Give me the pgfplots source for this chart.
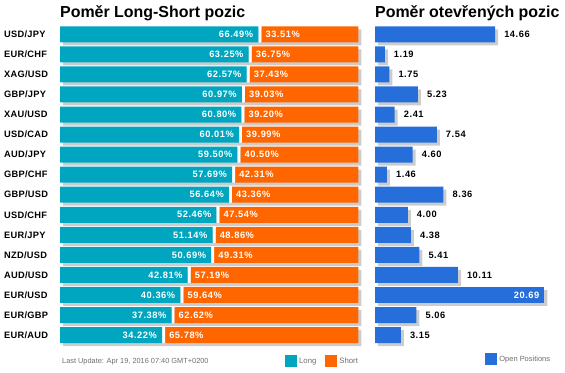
\documentclass[border=0pt]{standalone}
\usepackage{pgfplots}
\pgfplotsset{compat=1.18}
\usepackage{pgfplotstable}
\usepackage{fontspec}
\setmainfont{Liberation Sans}
\newfontfamily\rowfont[LetterSpace=3]{Liberation Sans}
\newfontfamily\valfont[LetterSpace=6]{Liberation Sans}
\definecolor{tealc}{RGB}{0,166,191}
\definecolor{orngc}{RGB}{255,102,0}
\definecolor{bluec}{RGB}{38,111,219}
\definecolor{shadc}{RGB}{204,204,204}
\definecolor{footc}{RGB}{110,110,110}

\pgfplotstableread{
idx pair long gap short open
0 USD/JPY 66.49 1 33.51 14.66
1 EUR/CHF 63.25 1 36.75 1.19
2 XAG/USD 62.57 1 37.43 1.75
3 GBP/JPY 60.97 1 39.03 5.23
4 XAU/USD 60.80 1 39.20 2.41
5 USD/CAD 60.01 1 39.99 7.54
6 AUD/JPY 59.50 1 40.50 4.60
7 GBP/CHF 57.69 1 42.31 1.46
8 GBP/USD 56.64 1 43.36 8.36
9 USD/CHF 52.46 1 47.54 4.00
10 EUR/JPY 51.14 1 48.86 4.38
11 NZD/USD 50.69 1 49.31 5.41
12 AUD/USD 42.81 1 57.19 10.11
13 EUR/USD 40.36 1 59.64 20.69
14 EUR/GBP 37.38 1 62.62 5.06
15 EUR/AUD 34.22 1 65.78 3.15
}\data

\tikzset{vfont/.style={font=\valfont\bfseries\fontsize{9.3}{10}\selectfont}}
\pgfplotsset{
  base/.style={scale only axis, anchor=north west, bar width=16bp,
    ymin=-0.5, ymax=15.5, y dir=reverse, enlargelimits=false,
    axis line style={draw=none}, xtick=\empty, major tick length=0pt,
    clip=false, /pgf/number format/assume math mode=true},
  leftax/.style={base, width=298.3bp, height=320.8bp, xmin=0, xmax=100},
  rightax/.style={base, xbar, width=180.2bp, height=320.8bp, xmin=0, xmax=22},
  sq/.style={legend image code/.code={\fill[##1] (0bp,-6bp) rectangle (12bp,6bp);}},
}

\begin{document}
\begin{tikzpicture}
\path[use as bounding box] (0,0) rectangle (565bp,-373bp);

% shadows (and legends)
\begin{axis}[leftax, xbar, at={(63bp,-27.3bp)}, ytick=\empty,
  legend columns=-1,
  legend style={draw=none, fill=none, inner sep=0pt, at={(0.744,-0.022)}, anchor=north west,
    font=\fontsize{7.8}{9}\selectfont, text=footc,
    /tikz/every even column/.append style={column sep=7bp}},
  sq]
\addplot[fill=shadc, draw=none, bar shift=0pt, forget plot] table[x expr=\thisrow{long}+\thisrow{short}, y=idx] {\data};
\addlegendimage{fill=tealc, draw=none}
\addlegendentry{Long}
\addlegendimage{fill=orngc, draw=none}
\addlegendentry{Short}
\end{axis}

\begin{axis}[rightax, at={(378bp,-27.3bp)}, ytick=\empty,
  legend style={draw=none, fill=none, inner sep=0pt, at={(0.595,-0.016)}, anchor=north west,
    font=\fontsize{7.5}{9}\selectfont, text=footc},
  sq]
\addplot[fill=shadc, draw=none, bar shift=0pt, forget plot] table[x=open, y=idx] {\data};
\addlegendimage{fill=bluec, draw=none}
\addlegendentry{Open Positions}
\end{axis}

% left main bars
\begin{axis}[leftax, xbar stacked, at={(60bp,-24.3bp)},
  ytick={0,...,15}, yticklabels from table={\data}{pair},
  yticklabel style={anchor=west, inner sep=0pt, xshift=-56bp,
    font=\rowfont\bfseries\fontsize{9.3}{10}\selectfont}]
\addplot[fill=tealc, draw=none, bar shift=0pt] table[x=long, y=idx] {\data};
\addplot[fill=white, draw=none, bar shift=0pt] table[x=gap, y=idx] {\data};
\addplot[fill=orngc, draw=none, bar shift=0pt]
  table[x expr=\thisrow{short}-\thisrow{gap}, y=idx] {\data};
\end{axis}

% left value labels
\begin{axis}[leftax, xbar, at={(60bp,-24.3bp)}, ytick=\empty]
\addplot[fill=none, draw=none, bar shift=0pt, point meta=explicit,
  nodes near coords={\pgfmathprintnumber[fixed,fixed zerofill,precision=2]{\pgfplotspointmeta}\%},
  nodes near coords style={anchor=east, xshift=-5bp, inner sep=0pt, text=white, vfont}]
  table[x=long, y=idx, meta=long] {\data};
\addplot[fill=none, draw=none, bar shift=0pt, point meta=explicit,
  nodes near coords={\pgfmathprintnumber[fixed,fixed zerofill,precision=2]{\pgfplotspointmeta}\%},
  nodes near coords style={anchor=west, xshift=7bp, inner sep=0pt, text=white, vfont}]
  table[x=long, y=idx, meta=short] {\data};
\end{axis}

% right main
\begin{axis}[rightax, at={(375bp,-24.3bp)}, ytick=\empty]
\addplot[fill=bluec, draw=none, bar shift=0pt, restrict x to domain=0:18, point meta=explicit,
  nodes near coords={\pgfmathprintnumber[fixed,fixed zerofill,precision=2]{\pgfplotspointmeta}},
  nodes near coords style={anchor=west, xshift=9bp, inner sep=0pt, text=black, vfont}]
  table[x=open, y=idx, meta=open] {\data};
\addplot[fill=bluec, draw=none, bar shift=0pt, restrict x to domain=18:30, point meta=explicit,
  nodes near coords={\pgfmathprintnumber[fixed,fixed zerofill,precision=2]{\pgfplotspointmeta}},
  nodes near coords style={anchor=east, xshift=-5bp, inner sep=0pt, text=white, vfont}]
  table[x=open, y=idx, meta=open] {\data};
\end{axis}

\node[anchor=base west, inner sep=0pt, font=\bfseries\fontsize{16}{18}\selectfont] at (60bp,-17.3bp) {Poměr Long-Short pozic};
\node[anchor=base west, inner sep=0pt, font=\bfseries\fontsize{16}{18}\selectfont] at (375bp,-17.3bp) {Poměr otevřených pozic};
\node[anchor=base west, inner sep=0pt, text=footc, font=\fontsize{7.4}{9}\selectfont] at (62bp,-363.5bp) {Last Update: Apr 19, 2016 07:40 GMT+0200};
\end{tikzpicture}
\end{document}
